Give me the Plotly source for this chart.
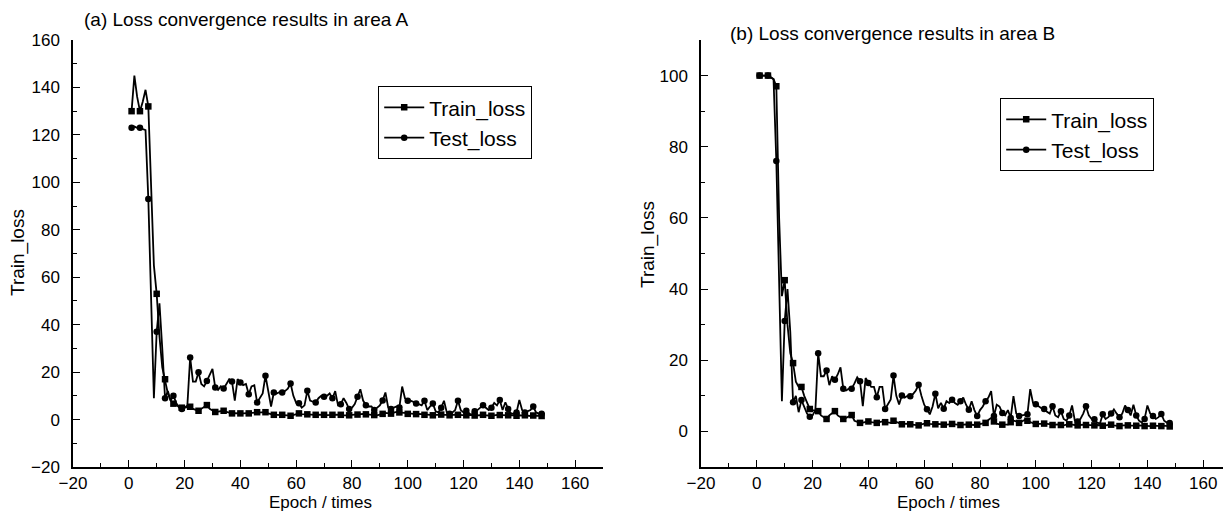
import plotly.graph_objects as go

# ---------------- data ----------------
epochs = list(range(1, 149))

train_a = [130, 145, 136, 130, 134, 139, 132, 95, 65, 53, 35, 22, 17, 11, 8, 6.7, 6, 5.5, 5, 5,
           5.2, 5.4, 4.5, 4, 3.7, 4.5, 5.5, 6.1, 4.5, 3.8, 3.2, 3.3, 3.5, 3.7, 3.2, 2.8, 2.6, 2.7, 2.8, 2.6,
           2.6, 2.7, 2.6, 2.8, 3.0, 3.1, 3.0, 3.0, 3.1, 2.6, 2.2, 2.0, 2.0, 2.0, 2.0, 1.9, 1.8, 1.6, 2.0, 2.4,
           2.6, 2.3, 2.2, 2.2, 2.1, 2.0, 2.0, 2.1, 2.2, 2.0, 1.9, 1.8, 2.0, 2.1, 2.2, 2.0, 1.8, 1.7, 1.8, 2.0,
           2.2, 2.1, 2.3, 2.4, 2.2, 2.0, 2.0, 1.9, 1.8, 2.0, 2.4, 2.8, 2.6, 2.5, 2.9, 3.2, 3.0, 2.9, 2.6, 2.4,
           2.3, 2.2, 2.3, 2.4, 2.2, 2.0, 2.1, 2.0, 1.8, 2.0, 2.2, 2.1, 2.0, 1.9, 1.8, 2.0, 2.1, 2.0, 1.8, 1.7,
           1.8, 2.0, 1.9, 1.7, 1.8, 1.9, 2.0, 1.8, 1.7, 1.6, 1.8, 2.0, 1.9, 1.8, 1.7, 1.8, 1.9, 1.8, 1.6, 1.5,
           1.7, 1.8, 1.6, 1.5, 1.7, 1.8, 1.6, 1.5]

test_a = [123, 123.5, 123, 123, 122.5, 122, 93, 55, 9, 37, 49, 30, 9, 12, 8, 10, 7, 5, 4.4, 5,
          6, 26.2, 16, 16, 19.9, 15, 14, 16.3, 19, 21.4, 13.5, 12.5, 14, 13.1, 15, 17, 16, 8, 17, 15.6,
          14.5, 15, 10.7, 14, 14.5, 7.2, 9, 11, 18.5, 11, 5.5, 11.4, 11, 11.5, 11.4, 12, 13, 15.2, 10, 7,
          6.9, 5, 6, 12.1, 8, 7.5, 7.2, 9, 10, 9.6, 10, 11, 9.0, 12, 6, 6.5, 9, 7, 4.4, 5,
          6.5, 9.6, 12.8, 8, 6, 5.5, 5.5, 4, 5, 6, 8, 11.4, 5, 4.5, 5, 5.5, 5.1, 13.9, 9, 7.9,
          8, 7.5, 6.8, 6.5, 6, 7.9, 4, 5.5, 6.8, 3.5, 3, 5, 7.9, 3, 2.5, 3, 4, 7.9, 4, 3,
          3.7, 2.5, 2, 3.5, 4, 5, 6, 5, 4, 5, 7, 6, 8.2, 4, 7.3, 4.5, 2.5, 2.5, 3, 8.3,
          4, 3, 3.5, 4, 5.5, 3, 2.5, 2.4]

train_b = [100, 100, 100, 100, 99.5, 99, 97, 60, 38, 42.5, 30, 22, 19.2, 14, 12.5, 12.5, 10, 8, 6.3, 6,
           5.8, 5.7, 4.5, 4, 3.5, 4.5, 5, 5.7, 4.5, 4, 3.5, 3.8, 4.2, 4.6, 3, 2.6, 2.4, 2.5, 2.6, 2.8,
           2.6, 2.5, 2.4, 2.6, 2.8, 2.6, 2.4, 2.4, 3.0, 2.6, 2.2, 2.0, 2.1, 2.2, 2.0, 1.9, 1.8, 1.7, 2.0, 2.2,
           2.3, 2.1, 2.0, 2.0, 2.1, 2.0, 1.9, 1.9, 2.0, 2.1, 2.0, 1.9, 1.8, 1.9, 2.0, 1.9, 1.8, 1.8, 1.9, 2.0,
           2.1, 2.4, 3.2, 3.8, 2.8, 2.2, 2.0, 1.9, 1.8, 1.9, 2.6, 3.0, 2.8, 2.4, 2.8, 3.2, 3.0, 2.6, 2.3, 2.1,
           2.0, 2.1, 2.2, 2.1, 1.9, 1.8, 1.9, 2.0, 1.8, 1.7, 1.9, 2.0, 1.9, 1.8, 1.7, 1.8, 1.9, 1.8, 1.7, 1.6,
           1.7, 1.8, 1.7, 1.6, 1.7, 1.8, 1.9, 1.7, 1.6, 1.5, 1.7, 1.8, 1.7, 1.6, 1.5, 1.6, 1.7, 1.6, 1.5, 1.4,
           1.5, 1.6, 1.5, 1.4, 1.5, 1.6, 1.5, 1.4]

test_b = [100, 100, 100, 100, 99.5, 99, 76, 40, 8.5, 31, 40, 28, 8.2, 10, 5.4, 8.8, 7, 5, 4.1, 4.5,
          6, 22, 15.5, 15.5, 17.1, 13, 15.5, 14.5, 16, 18, 12, 11.5, 12, 12, 13.5, 15.2, 14.1, 7.1, 15, 13.6,
          12.5, 12.5, 9.6, 12.5, 12.5, 6.3, 7.5, 9, 15.7, 10, 7.6, 10.1, 9.5, 10, 9.9, 10.5, 11.5, 13.1, 10, 7.5,
          6.2, 4.8, 7, 10.6, 6.5, 8, 6.4, 8.5, 8, 8.9, 8, 7.5, 8.5, 9.5, 7.5, 6.1, 8.5, 6, 4.3, 6,
          7, 8.5, 9.5, 11.3, 4.3, 7.5, 7, 5.2, 4.5, 6, 3.8, 9.9, 5, 4.3, 4.5, 4.7, 4.8, 11.9, 8, 7.6,
          7, 6.5, 6.3, 5.5, 5, 7.1, 4.5, 4, 5.7, 3.5, 3, 4.5, 7.3, 3, 2.8, 3.5, 5, 7.1, 4.5, 3.5,
          3.4, 2.5, 2.2, 4.8, 3.5, 4, 5, 6.2, 5, 4, 5, 7.3, 6, 4.5, 7.5, 4.5, 3, 2.5, 3.5, 7.3,
          5, 4.3, 3.5, 4, 4.9, 3, 2.5, 2.4]

marker_step = 3
panel_titles = ["(a) Loss convergence results in area A", "(b) Loss convergence results in area B"]
series_names = ["Train_loss", "Test_loss"]
x_title = "Epoch / times"
y_title = "Train_loss"

FONT = "Liberation Sans, Arial, sans-serif"
W, H = 1223, 513
MT, MB = 40, 46
PH = H - MT - MB


def py(pixel_y):
    """convert a pixel row (from top of figure) to paper y"""
    return (H - MB - pixel_y) / PH


fig = go.Figure()

panels = [
    dict(train=train_a, test=test_a, xa="x", ya="y", legend="legend"),
    dict(train=train_b, test=test_b, xa="x2", ya="y2", legend="legend2"),
]
symbols = {"Train_loss": "square", "Test_loss": "circle"}

for p in panels:
    for name, vals in zip(series_names, [p["train"], p["test"]]):
        fig.add_trace(go.Scatter(x=epochs, y=vals, mode="lines", xaxis=p["xa"], yaxis=p["ya"],
                                 line=dict(color="black", width=1.8), showlegend=False,
                                 hoverinfo="skip"))
        fig.add_trace(go.Scatter(x=epochs[::marker_step], y=vals[::marker_step], mode="markers",
                                 xaxis=p["xa"], yaxis=p["ya"],
                                 marker=dict(symbol=symbols[name], color="black", size=6.5,
                                             line=dict(width=0)),
                                 showlegend=False))
        fig.add_trace(go.Scatter(x=[None], y=[None], mode="lines+markers", name=name,
                                 xaxis=p["xa"], yaxis=p["ya"], legend=p["legend"],
                                 line=dict(color="black", width=1.8),
                                 marker=dict(symbol=symbols[name], color="black", size=6.5)))

common_axis = dict(
    showline=True, linecolor="black", linewidth=1.5, mirror=False,
    ticks="inside", ticklen=7, tickwidth=1.4, tickcolor="black",
    showgrid=False, zeroline=False,
    tickfont=dict(family=FONT, size=17, color="black"),
    automargin=False,
)
minor = dict(ticks="inside", ticklen=4, tickwidth=1.2, tickcolor="black", dtick=10)

fig.update_layout(
    width=W, height=H,
    margin=dict(l=0, r=0, t=MT, b=MB),
    paper_bgcolor="white", plot_bgcolor="white",
    font=dict(family=FONT, color="black"),
    xaxis=dict(domain=[73 / W, 603 / W], range=[-20, 170], dtick=20, tick0=0, anchor="y",
               minor=minor, ticklabelstandoff=0, **common_axis),
    yaxis=dict(domain=[0, 1], range=[-20, 160], dtick=20, tick0=0, anchor="x",
               minor=minor, ticklabelstandoff=8, **common_axis),
    xaxis2=dict(domain=[701 / W, 1.0], range=[-20, 167.1], dtick=20, tick0=0, anchor="y2",
                minor=minor, ticklabelstandoff=0, **common_axis),
    yaxis2=dict(domain=[0, 1], range=[-10, 110], dtick=20, tick0=0, anchor="x2",
                minor=minor, ticklabelstandoff=8, **common_axis),
    legend=dict(x=378 / W, y=py(86), xanchor="left", yanchor="top",
                bordercolor="black", borderwidth=1.2, bgcolor="white",
                font=dict(family=FONT, size=21, color="black"), tracegroupgap=0,
                itemwidth=40),
    legend2=dict(x=1000 / W, y=py(98), xanchor="left", yanchor="top",
                 bordercolor="black", borderwidth=1.2, bgcolor="white",
                 font=dict(family=FONT, size=21, color="black"), tracegroupgap=0,
                 itemwidth=40),
)

annotations = [
    dict(text=panel_titles[0], x=82 / W, y=py(20), xanchor="left", yanchor="middle", size=19),
    dict(text=panel_titles[1], x=728 / W, y=py(34), xanchor="left", yanchor="middle", size=19),
    dict(text=x_title, x=320 / W, y=py(502), xanchor="center", yanchor="middle", size=17),
    dict(text=x_title, x=948 / W, y=py(502), xanchor="center", yanchor="middle", size=17),
    dict(text=y_title, x=18 / W, y=py(253), xanchor="center", yanchor="middle", textangle=-90, size=19),
    dict(text=y_title, x=648 / W, y=py(245), xanchor="center", yanchor="middle", textangle=-90, size=19),
]
for a in annotations:
    s = a.pop("size")
    a.update(xref="paper", yref="paper", showarrow=False,
             font=dict(family=FONT, size=s, color="black"))
fig.update_layout(annotations=annotations)

fig.write_html("out.html", config={"displayModeBar": False},
               post_script="document.body.style.margin='0';document.body.style.overflow='hidden';")
